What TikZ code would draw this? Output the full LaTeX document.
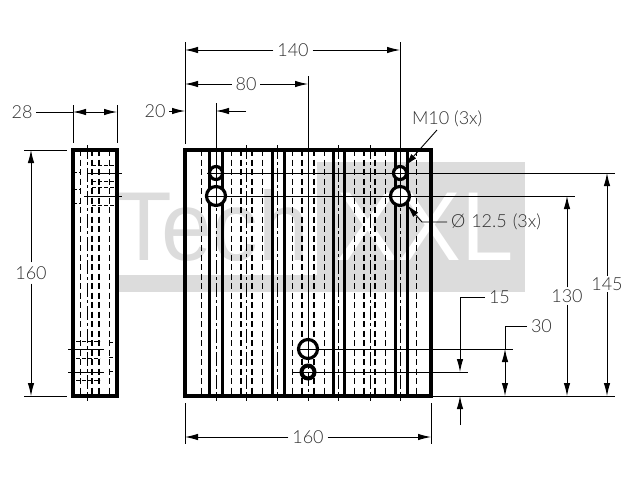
\documentclass[tikz,border=0pt]{standalone}
\usepackage{fontspec}
\setmainfont{Lato}[UprightFont=* Light]
\newfontfamily\markfont{Liberation Sans}
\usetikzlibrary{arrows.meta}
\definecolor{markgray}{HTML}{DCDCDC}
\definecolor{inkgray}{HTML}{303030}
\tikzset{
  outline/.style={line width=3.2pt, line cap=round},
  wall/.style={line width=3pt},
  hidden/.style={line width=1pt, dash pattern=on 6pt off 3.5pt},
  hiddenthick/.style={line width=2.6pt, dash pattern=on 6pt off 3.5pt},
  axis/.style={line width=0.9pt, dash pattern=on 14pt off 3pt on 3pt off 3pt},
  thin line/.style={line width=0.9pt},
  hole/.style={line width=3.2pt},
  tipline/.style={line width=0.9pt, -{Latex[length=13pt,width=6.5pt]}},
  dimtext/.style={font=\fontsize{18}{18}\selectfont, text=inkgray, inner sep=4pt, outer sep=0pt},
  marktext/.style={font=\markfont\fontsize{98}{98}\selectfont, inner sep=0pt, anchor=base west}
}
\begin{document}
\begin{tikzpicture}[x=1pt, y=-1pt]
  \useasboundingbox (0,0) rectangle (640,480);

  % watermark
  \fill[markgray] (118,275) rectangle (317,292);
  \fill[markgray] (317,162) rectangle (525,292);
  \node[marktext, text=markgray] (wm1) at (116,260) {\scalebox{0.93}[1]{Tech}};
  \node[marktext, text=white] (wm2) at (336,260) {\scalebox{0.96}[1]{XXL}};

  % corners of the two views
  \coordinate (a1) at (185,150);
  \coordinate (a2) at (431,150);
  \coordinate (a3) at (185,396);
  \coordinate (a4) at (431,396);
  \coordinate (b1) at (73,150);
  \coordinate (b2) at (117,150);
  \coordinate (b3) at (73,396);
  \coordinate (b4) at (117,396);

  % hole centres
  \coordinate (h1) at (216,173);
  \coordinate (h2) at (216,196);
  \coordinate (h3) at (400,173);
  \coordinate (h4) at (400,196);
  \coordinate (h5) at (308,349);
  \coordinate (h6) at (308,372);

  % front view, hidden lines
  \draw[hidden] (201,150) -- (201,396) (231,150) -- (231,396) (262,150) -- (262,396)
    (292,150) -- (292,396) (324,150) -- (324,396) (354,150) -- (354,396)
    (385,150) -- (385,396) (416,150) -- (416,396);
  \draw[hiddenthick] (241,150) -- (241,396) (252,150) -- (252,396) (302,150) -- (302,396)
    (314,150) -- (314,396) (364,150) -- (364,396) (375,150) -- (375,396);
  \draw[axis] (246,145) -- (246,401) (277,145) -- (277,401)
    (338,145) -- (338,401) (370,145) -- (370,401);

  % front view, walls
  \draw[wall] (209,150) -- (209,396) (222,150) -- (222,396) (272,150) -- (272,396)
    (284,150) -- (284,396) (333,150) -- (333,396) (344,150) -- (344,396)
    (395,150) -- (395,396) (407,150) -- (407,396);
  \draw[outline] (a1) -- (a2) -- (a4) -- (a3) -- cycle;

  % holes
  \draw[hole, fill=white] (h1) circle (6.5pt);
  \draw[hole, fill=white] (h3) circle (6.5pt);
  \draw[hole, line width=4pt, fill=white] (h6) circle (6.5pt);
  \draw[hole, fill=white] (h2) circle (9.5pt);
  \draw[hole, fill=white] (h4) circle (9.5pt);
  \draw[hole, fill=white] (h5) circle (9.5pt);
  \draw[axis] (216,145) -- (216,401) (400,145) -- (400,401) (308,349) -- (308,401);

  % side view
  \draw[hidden] (80,150) -- (80,396) (109,150) -- (109,396);
  \draw[hiddenthick, line width=1.8pt] (92,150) -- (92,396) (99,150) -- (99,396);
  \draw[axis] (87,145) -- (87,401);
  \draw[hidden, dash pattern=on 4pt off 2pt] (73,172) -- (80,172) (73,189) -- (80,189) (73,203) -- (80,203)
    (92,165) -- (117,165) (92,181) -- (117,181) (92,187) -- (117,187) (92,205) -- (117,205)
    (76,341) -- (100,341) (76,358) -- (100,358) (76,380) -- (100,380)
    (109,342) -- (117,342) (109,357) -- (117,357) (109,371) -- (117,371);
  \draw[thin line] (87,173) -- (122,173) (84,196) -- (122,196) (68,349) -- (104,349) (68,372) -- (104,372);
  \draw[outline] (b1) -- (b2) -- (b4) -- (b3) -- cycle;

  % extension lines
  \draw[thin line] (185,42) -- (185,144) (400,42) -- (h4) (308,76) -- (h5) (216,103) -- (h2);
  \draw[thin line] (73,105) -- (73,143) (117,105) -- (117,143);
  \draw[thin line] (185,403) -- (185,444) (431,403) -- (431,444);
  \draw[thin line] (24,150) -- (67,150) (24,396) -- (67,396);
  \draw[thin line] (207,173) -- (615,173) (207,196) -- (575,196) (298,349) -- (513,349)
    (292,372) -- (468,372) (a4) -- (615,396);

  % horizontal dimensions
  \node[dimtext] (d140) at (293,50) {140};
  \draw[tipline] (d140) -- (185,50);
  \draw[tipline] (d140) -- (400,50);
  \node[dimtext] (d80) at (246,84) {80};
  \draw[tipline] (d80) -- (185,84);
  \draw[tipline] (d80) -- (308,84);
  \node[dimtext] (d20) at (155,111) {20};
  \draw[tipline] (d20) -- (185,111);
  \draw[tipline] (246,111) -- (216,111);
  \node[dimtext] (d28) at (22,112) {28};
  \draw[thin line] (d28) -- (73,112);
  \draw[tipline] (95,112) -- (73,112);
  \draw[tipline] (95,112) -- (117,112);
  \node[dimtext] (d160b) at (308,437) {160};
  \draw[tipline] (d160b) -- (185,437);
  \draw[tipline] (d160b) -- (431,437);

  % vertical dimensions
  \node[dimtext] (d160a) at (31,273) {160};
  \draw[tipline] (d160a) -- (31,150);
  \draw[tipline] (d160a) -- (31,396);
  \node[dimtext, inner sep=2pt] (d145) at (607,284) {145};
  \draw[tipline] (d145) -- (607,173);
  \draw[tipline] (d145) -- (607,396);
  \node[dimtext, inner sep=2pt] (d130) at (567,296) {130};
  \draw[tipline] (d130) -- (567,196);
  \draw[tipline] (d130) -- (567,396);

  % leaders
  \node[dimtext, anchor=west] (d30) at (527,326) {30};
  \draw[thin line] (d30.west) -- (505,326) -- (505,349);
  \draw[tipline] (505,372) -- (505,349);
  \draw[tipline] (505,372) -- (505,396);
  \node[dimtext, anchor=west] (d15) at (485,297) {15};
  \draw[tipline] (d15.west) -- (460,297) -- (460,372);
  \draw[tipline] (460,425) -- (460,396);
  \node[dimtext, anchor=west] (m10) at (408,119) {M10 (3x)};
  \draw[tipline] (437,130) -- (405,166);
  \node[dimtext, anchor=west] (d125) at (447,222) {Ø\hspace{6pt}12.5\hspace{6pt}(3x)};
  \draw[tipline] (d125.west) -- (422,222) -- (407,205);
\end{tikzpicture}
\end{document}
